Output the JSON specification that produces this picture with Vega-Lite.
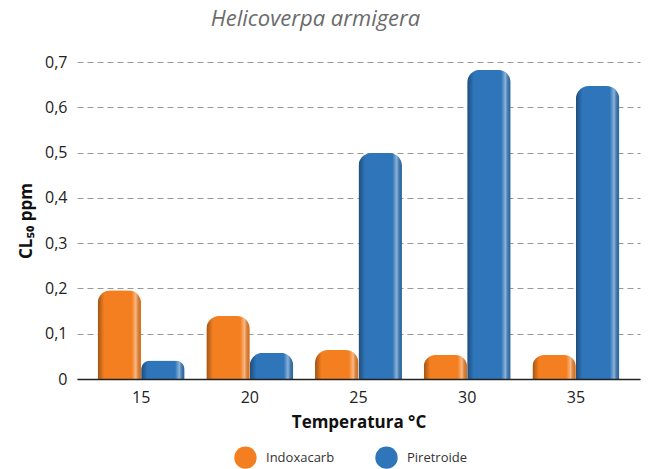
{
  "$schema": "https://vega.github.io/schema/vega-lite/v6.json",
  "autosize": {"type": "none"},
  "padding": {"left": 77, "top": 62, "right": 9, "bottom": 90},
  "width": 563,
  "height": 317,
  "background": "white",
  "config": {"view": {"stroke": null}},
  "title": {
    "text": "Helicoverpa armigera",
    "fontSize": 22,
    "fontStyle": "italic",
    "fontWeight": "normal",
    "font": "Open Sans",
    "color": "#6b6b6b",
    "anchor": "middle",
    "frame": "group",
    "dx": -43,
    "offset": 23
  },
  "data": {
    "values": [
      {"temp": "15", "serie": "Indoxacarb", "cl50": 0.196},
      {"temp": "15", "serie": "Piretroide", "cl50": 0.041},
      {"temp": "20", "serie": "Indoxacarb", "cl50": 0.139},
      {"temp": "20", "serie": "Piretroide", "cl50": 0.058},
      {"temp": "25", "serie": "Indoxacarb", "cl50": 0.064},
      {"temp": "25", "serie": "Piretroide", "cl50": 0.499},
      {"temp": "30", "serie": "Indoxacarb", "cl50": 0.053},
      {"temp": "30", "serie": "Piretroide", "cl50": 0.683},
      {"temp": "35", "serie": "Indoxacarb", "cl50": 0.053},
      {"temp": "35", "serie": "Piretroide", "cl50": 0.647}
    ]
  },
  "encoding": {
    "x": {
      "field": "temp",
      "type": "ordinal",
      "scale": {"paddingInner": 0.2, "paddingOuter": 0.19},
      "axis": {
        "title": "Temperatura °C",
        "titleFont": "Open Sans",
        "titleFontSize": 17,
        "titleFontWeight": "bold",
        "titleColor": "#111",
        "titlePadding": 9,
        "labelAngle": 0,
        "labelFont": "Open Sans",
        "labelFontSize": 16,
        "labelColor": "#222",
        "labelPadding": 10,
        "ticks": false,
        "grid": false,
        "domainColor": "#222",
        "domainWidth": 1.5,
        "zindex": 1
      }
    },
    "xOffset": {"field": "serie", "type": "nominal", "sort": ["Indoxacarb", "Piretroide"]},
    "y": {
      "field": "cl50",
      "type": "quantitative",
      "scale": {"domain": [0, 0.7], "nice": false},
      "axis": {
        "title": "CL₅₀ ppm",
        "titleFont": "Open Sans",
        "titleFontSize": 17,
        "titleFontWeight": "bold",
        "titleColor": "#111",
        "titlePadding": 9,
        "values": [0, 0.1, 0.2, 0.3, 0.4, 0.5, 0.6, 0.7],
        "labelExpr": "datum.value == 0 ? '0' : replace(format(datum.value, '.1f'), '.', ',')",
        "labelFont": "Open Sans",
        "labelFontSize": 16,
        "labelColor": "#222",
        "labelPadding": 10,
        "ticks": false,
        "domain": false,
        "grid": true,
        "gridColor": "#999",
        "gridDash": [6, 4],
        "gridWidth": 1
      }
    }
  },
  "layer": [
    {
      "mark": {"type": "bar", "cornerRadiusTopLeft": 13, "cornerRadiusTopRight": 13},
      "encoding": {
        "color": {
          "field": "serie",
          "type": "nominal",
          "scale": {"domain": ["Indoxacarb", "Piretroide"], "range": ["#F47F20", "#2E75BA"]},
          "legend": {
            "orient": "none",
            "legendX": 157,
            "legendY": 384,
            "direction": "horizontal",
            "title": null,
            "symbolType": "circle",
            "symbolSize": 500,
            "symbolStrokeWidth": 0,
            "labelFont": "Open Sans",
            "labelFontSize": 13,
            "labelColor": "#333",
            "labelOffset": 9,
            "columnPadding": 40
          }
        }
      }
    },
    {
      "mark": {
        "type": "bar",
        "cornerRadiusTopLeft": 13,
        "cornerRadiusTopRight": 13,
        "fill": {
          "gradient": "linear",
          "x1": 0, "y1": 0, "x2": 1, "y2": 0,
          "stops": [
            {"offset": 0, "color": "rgba(0,0,0,0.35)"},
            {"offset": 0.15, "color": "rgba(0,0,0,0)"},
            {"offset": 0.78, "color": "rgba(255,255,255,0)"},
            {"offset": 0.88, "color": "rgba(255,255,255,0.45)"},
            {"offset": 1, "color": "rgba(0,0,0,0.08)"}
          ]
        }
      }
    }
  ]
}
